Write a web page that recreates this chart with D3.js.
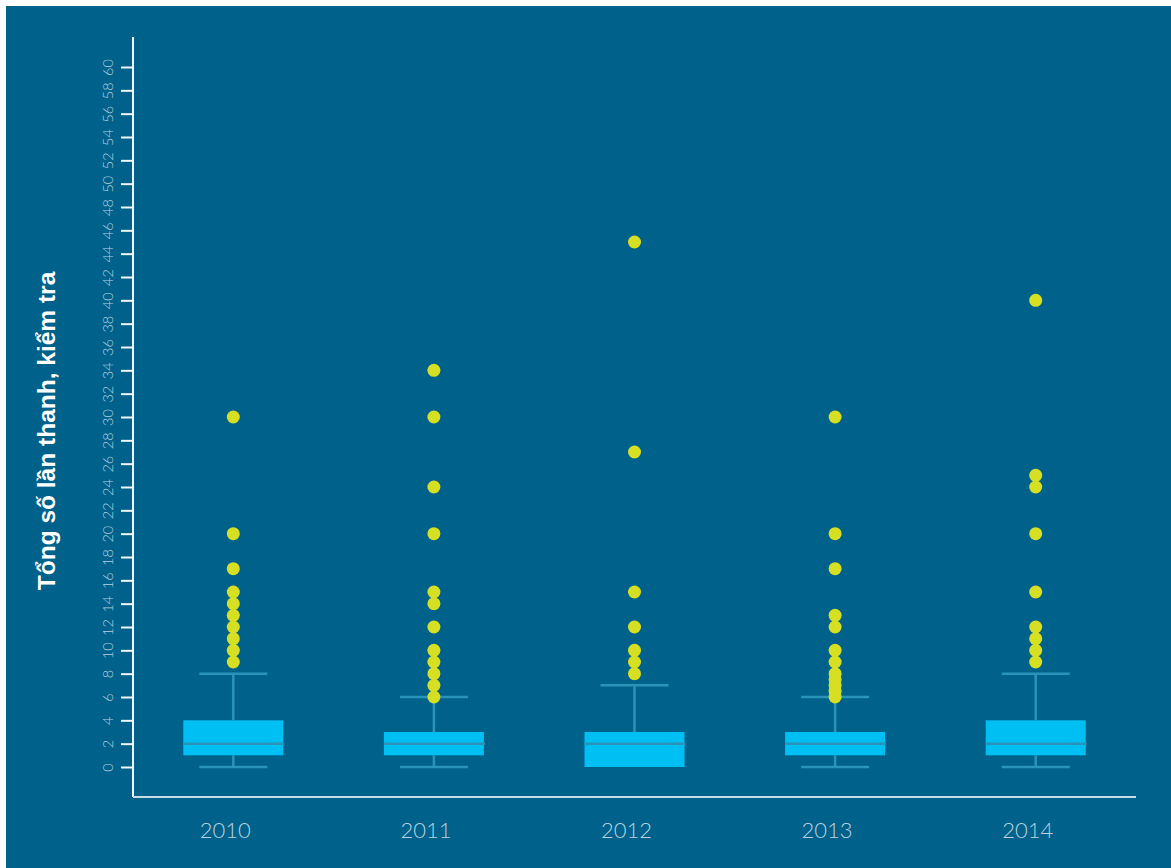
<!DOCTYPE html>
<html><head><meta charset="utf-8">
<script src="https://cdn.jsdelivr.net/npm/d3@7"></script>
<style>html,body{margin:0;padding:0;background:#fff;}svg{display:block;}</style>
</head><body>
<svg id="c" width="1171" height="868"></svg>
<script>
const years = ["2010","2011","2012","2013","2014"];
const whiskerLow = [0,0,0,0,0];
const q1 = [1,1,0,1,1];
const median = [2,2,2,2,2];
const q3 = [4,3,3,3,4];
const whiskerHigh = [8,6,7,6,8];
const outliers2010 = [9,10,11,12,13,14,15,17,20,30];
const outliers2011 = [6,7,8,9,10,12,14,15,20,24,30,34];
const outliers2012 = [8,9,10,12,15,27,45];
const outliers2013 = [6,6.5,7,7.5,8,9,10,12,13,17,20,30];
const outliers2014 = [9,10,11,12,15,20,24,25,40];
const outliers = [outliers2010,outliers2011,outliers2012,outliers2013,outliers2014];
const yTicks = d3.range(0,61,2);
const yTitle = "Tổng số lần thanh, kiểm tra";

const svg = d3.select("#c");
svg.append("rect").attr("x",6).attr("y",6).attr("width",1165).attr("height",862).attr("fill","#00618a");

const x = d3.scaleBand().domain(years).range([133,1136]).paddingInner(0).paddingOuter(0);
const y = d3.scaleLinear().domain([0,60]).range([767,67]);
const bw = 100, cw = 68;
const lightFont = "Lato, 'Open Sans', 'Liberation Sans', sans-serif";

// axes
svg.append("line").attr("x1",133).attr("x2",133).attr("y1",37).attr("y2",797).attr("stroke","#f2f7fa").attr("stroke-width",2);
svg.append("line").attr("x1",133).attr("x2",1136).attr("y1",797).attr("y2",797).attr("stroke","#c8dce6").attr("stroke-width",2);

const yAxis = d3.axisLeft(y).tickValues(yTicks).tickSize(12).tickPadding(4);
const gy = svg.append("g").attr("transform","translate(133,0)").call(yAxis);
gy.select(".domain").remove();
gy.selectAll(".tick line").attr("stroke","#f2f7fa").attr("stroke-width",2);
gy.selectAll(".tick text").attr("fill","#b8d2e0").attr("font-family",lightFont).attr("font-weight",300)
  .attr("font-size",14.5).attr("text-anchor","middle").attr("x",0).attr("dy",0)
  .attr("transform",d=>`translate(-26,0) rotate(-90)`).attr("dominant-baseline","central");

// x labels
years.forEach(yr=>{
  svg.append("text").attr("x",x(yr)+x.bandwidth()/2 - 8).attr("y",838).attr("text-anchor","middle")
    .attr("fill","#b8d2e0").attr("font-family",lightFont).attr("font-weight",300).attr("font-size",22).text(yr);
});

// y title
svg.append("text").attr("transform","translate(55,431) rotate(-90)").attr("text-anchor","middle")
  .attr("fill","#ffffff").attr("font-weight","bold").attr("font-family","Liberation Sans, Arial, sans-serif")
  .attr("font-size",24.5).text(yTitle);

const wc = "#2a93b8";
years.forEach((yr,i)=>{
  const cx = x(yr)+x.bandwidth()/2;
  const g = svg.append("g");
  g.append("line").attr("x1",cx).attr("x2",cx).attr("y1",y(whiskerHigh[i])).attr("y2",y(q3[i])).attr("stroke",wc).attr("stroke-width",2.5);
  g.append("line").attr("x1",cx-cw/2).attr("x2",cx+cw/2).attr("y1",y(whiskerHigh[i])).attr("y2",y(whiskerHigh[i])).attr("stroke",wc).attr("stroke-width",2.5);
  if (whiskerLow[i] < q1[i]) {
    g.append("line").attr("x1",cx).attr("x2",cx).attr("y1",y(whiskerLow[i])).attr("y2",y(q1[i])).attr("stroke",wc).attr("stroke-width",2.5);
    g.append("line").attr("x1",cx-cw/2).attr("x2",cx+cw/2).attr("y1",y(whiskerLow[i])).attr("y2",y(whiskerLow[i])).attr("stroke",wc).attr("stroke-width",2.5);
  }
  g.append("rect").attr("x",cx-bw/2).attr("y",y(q3[i])).attr("width",bw).attr("height",y(q1[i])-y(q3[i])).attr("fill","#00bff3");
  g.append("line").attr("x1",cx-bw/2).attr("x2",cx+bw/2+1).attr("y1",y(median[i])).attr("y2",y(median[i])).attr("stroke",wc).attr("stroke-width",2.5);
  g.selectAll("circle").data(outliers[i]).join("circle").attr("cx",cx).attr("cy",d=>y(d)).attr("r",6.5).attr("fill","#d7df23");
});
</script>
</body></html>
